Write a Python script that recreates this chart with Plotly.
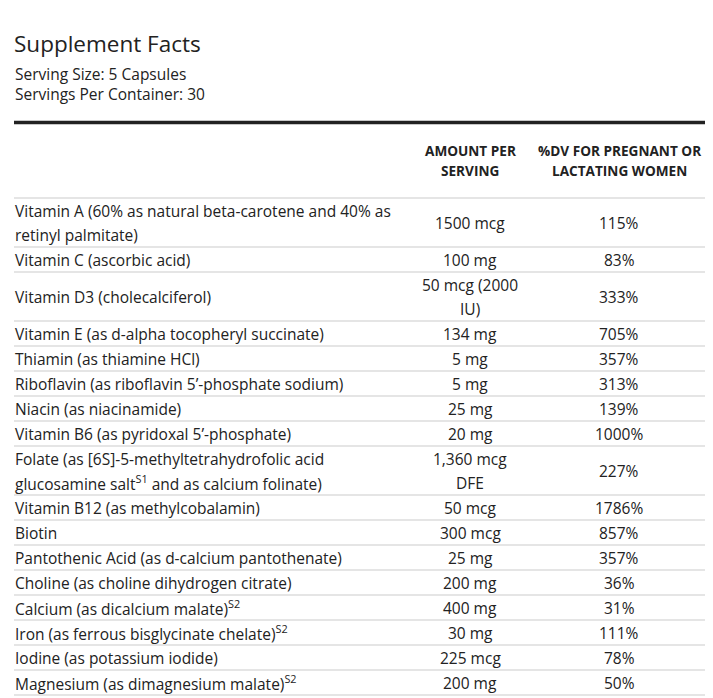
import plotly.graph_objects as go

# supplement facts panel, drawn as a table out of annotations + shapes
title = "Supplement Facts"
serving_info = ["Serving Size: 5 Capsules", "Servings Per Container: 30"]
col_headers = ["AMOUNT PER<br>SERVING", "%DV FOR PREGNANT OR<br>LACTATING WOMEN"]

nutrients = [
    "Vitamin A (60% as natural beta-carotene and 40% as<br>retinyl palmitate)",
    "Vitamin C (ascorbic acid)",
    "Vitamin D3 (cholecalciferol)",
    "Vitamin E (as d-alpha tocopheryl succinate)",
    "Thiamin (as thiamine HCl)",
    "Riboflavin (as riboflavin 5\u2019-phosphate sodium)",
    "Niacin (as niacinamide)",
    "Vitamin B6 (as pyridoxal 5\u2019-phosphate)",
    "Folate (as [6S]-5-methyltetrahydrofolic acid<br>glucosamine salt<sup>S1</sup> and as calcium folinate)",
    "Vitamin B12 (as methylcobalamin)",
    "Biotin",
    "Pantothenic Acid (as d-calcium pantothenate)",
    "Choline (as choline dihydrogen citrate)",
    "Calcium (as dicalcium malate)<sup>S2</sup>",
    "Iron (as ferrous bisglycinate chelate)<sup>S2</sup>",
    "Iodine (as potassium iodide)",
    "Magnesium (as dimagnesium malate)<sup>S2</sup>",
]
amounts = [
    "1500 mcg", "100 mg", "50 mcg (2000<br>IU)", "134 mg", "5 mg", "5 mg",
    "25 mg", "20 mg", "1,360 mcg<br>DFE", "50 mcg", "300 mcg", "25 mg",
    "200 mg", "400 mg", "30 mg", "225 mcg", "200 mg",
]
pct_dv = [
    "115%", "83%", "333%", "705%", "357%", "313%", "139%", "1000%", "227%",
    "1786%", "857%", "357%", "36%", "31%", "111%", "78%", "50%",
]

W, H = 713, 698
OFF = 8  # page body margin, the figure sits 8px in from the window corner
FONT = "Open Sans"
INK = "#222222"
LEFT = 14
COL_X = [470, 619]
LINE_H = 24
BODY = 15.5

fig = go.Figure()
ann = []
shapes = []


def add_lines(text, x, yc, size, anchor, spacing, bold=False):
    parts = text.split("<br>")
    n = len(parts)
    for i, p in enumerate(parts):
        y = yc + (i - (n - 1) / 2) * spacing
        ann.append(dict(
            x=x, y=y, xref="x", yref="y", text=f"<b>{p}</b>" if bold else p,
            showarrow=False, xanchor=anchor, yanchor="middle",
            font=dict(family=FONT, size=size, color=INK),
        ))


def hline(y, color, width):
    shapes.append(dict(type="line", xref="x", yref="y", x0=LEFT, x1=W + OFF,
                       y0=y, y1=y, line=dict(color=color, width=width)))


# title block
add_lines(title, LEFT - 2, 43, 22.5, "left", 0)
add_lines(serving_info[0], LEFT - 1, 74, 15.5, "left", 0)
add_lines(serving_info[1], LEFT - 1, 94, 15.5, "left", 0)
hline(122.5, INK, 3.5)

# column headers
for hdr, cx in zip(col_headers, COL_X):
    add_lines(hdr, cx, 160, 13.6, "center", 20, bold=True)

y = 198
hline(y, "#dddddd", 1.5)

for name, amt, dv in zip(nutrients, amounts, pct_dv):
    nlines = max(s.count("<br>") + 1 for s in (name, amt, dv))
    h = LINE_H * nlines + 1
    yc = y + h / 2
    add_lines(name, LEFT - 1, yc, BODY, "left", LINE_H)
    add_lines(amt, COL_X[0], yc, BODY, "center", LINE_H)
    add_lines(dv, COL_X[1], yc, BODY, "center", LINE_H)
    y += h
    hline(y, "#dddddd", 1.5)

fig.update_layout(
    width=W, height=H,
    margin=dict(l=0, r=0, t=0, b=0),
    paper_bgcolor="white", plot_bgcolor="white",
    xaxis=dict(range=[OFF, W + OFF], visible=False, fixedrange=True),
    yaxis=dict(range=[H + OFF, OFF], visible=False, fixedrange=True),
    annotations=ann, shapes=shapes,
    showlegend=False,
)

fig.write_html("out.html")
